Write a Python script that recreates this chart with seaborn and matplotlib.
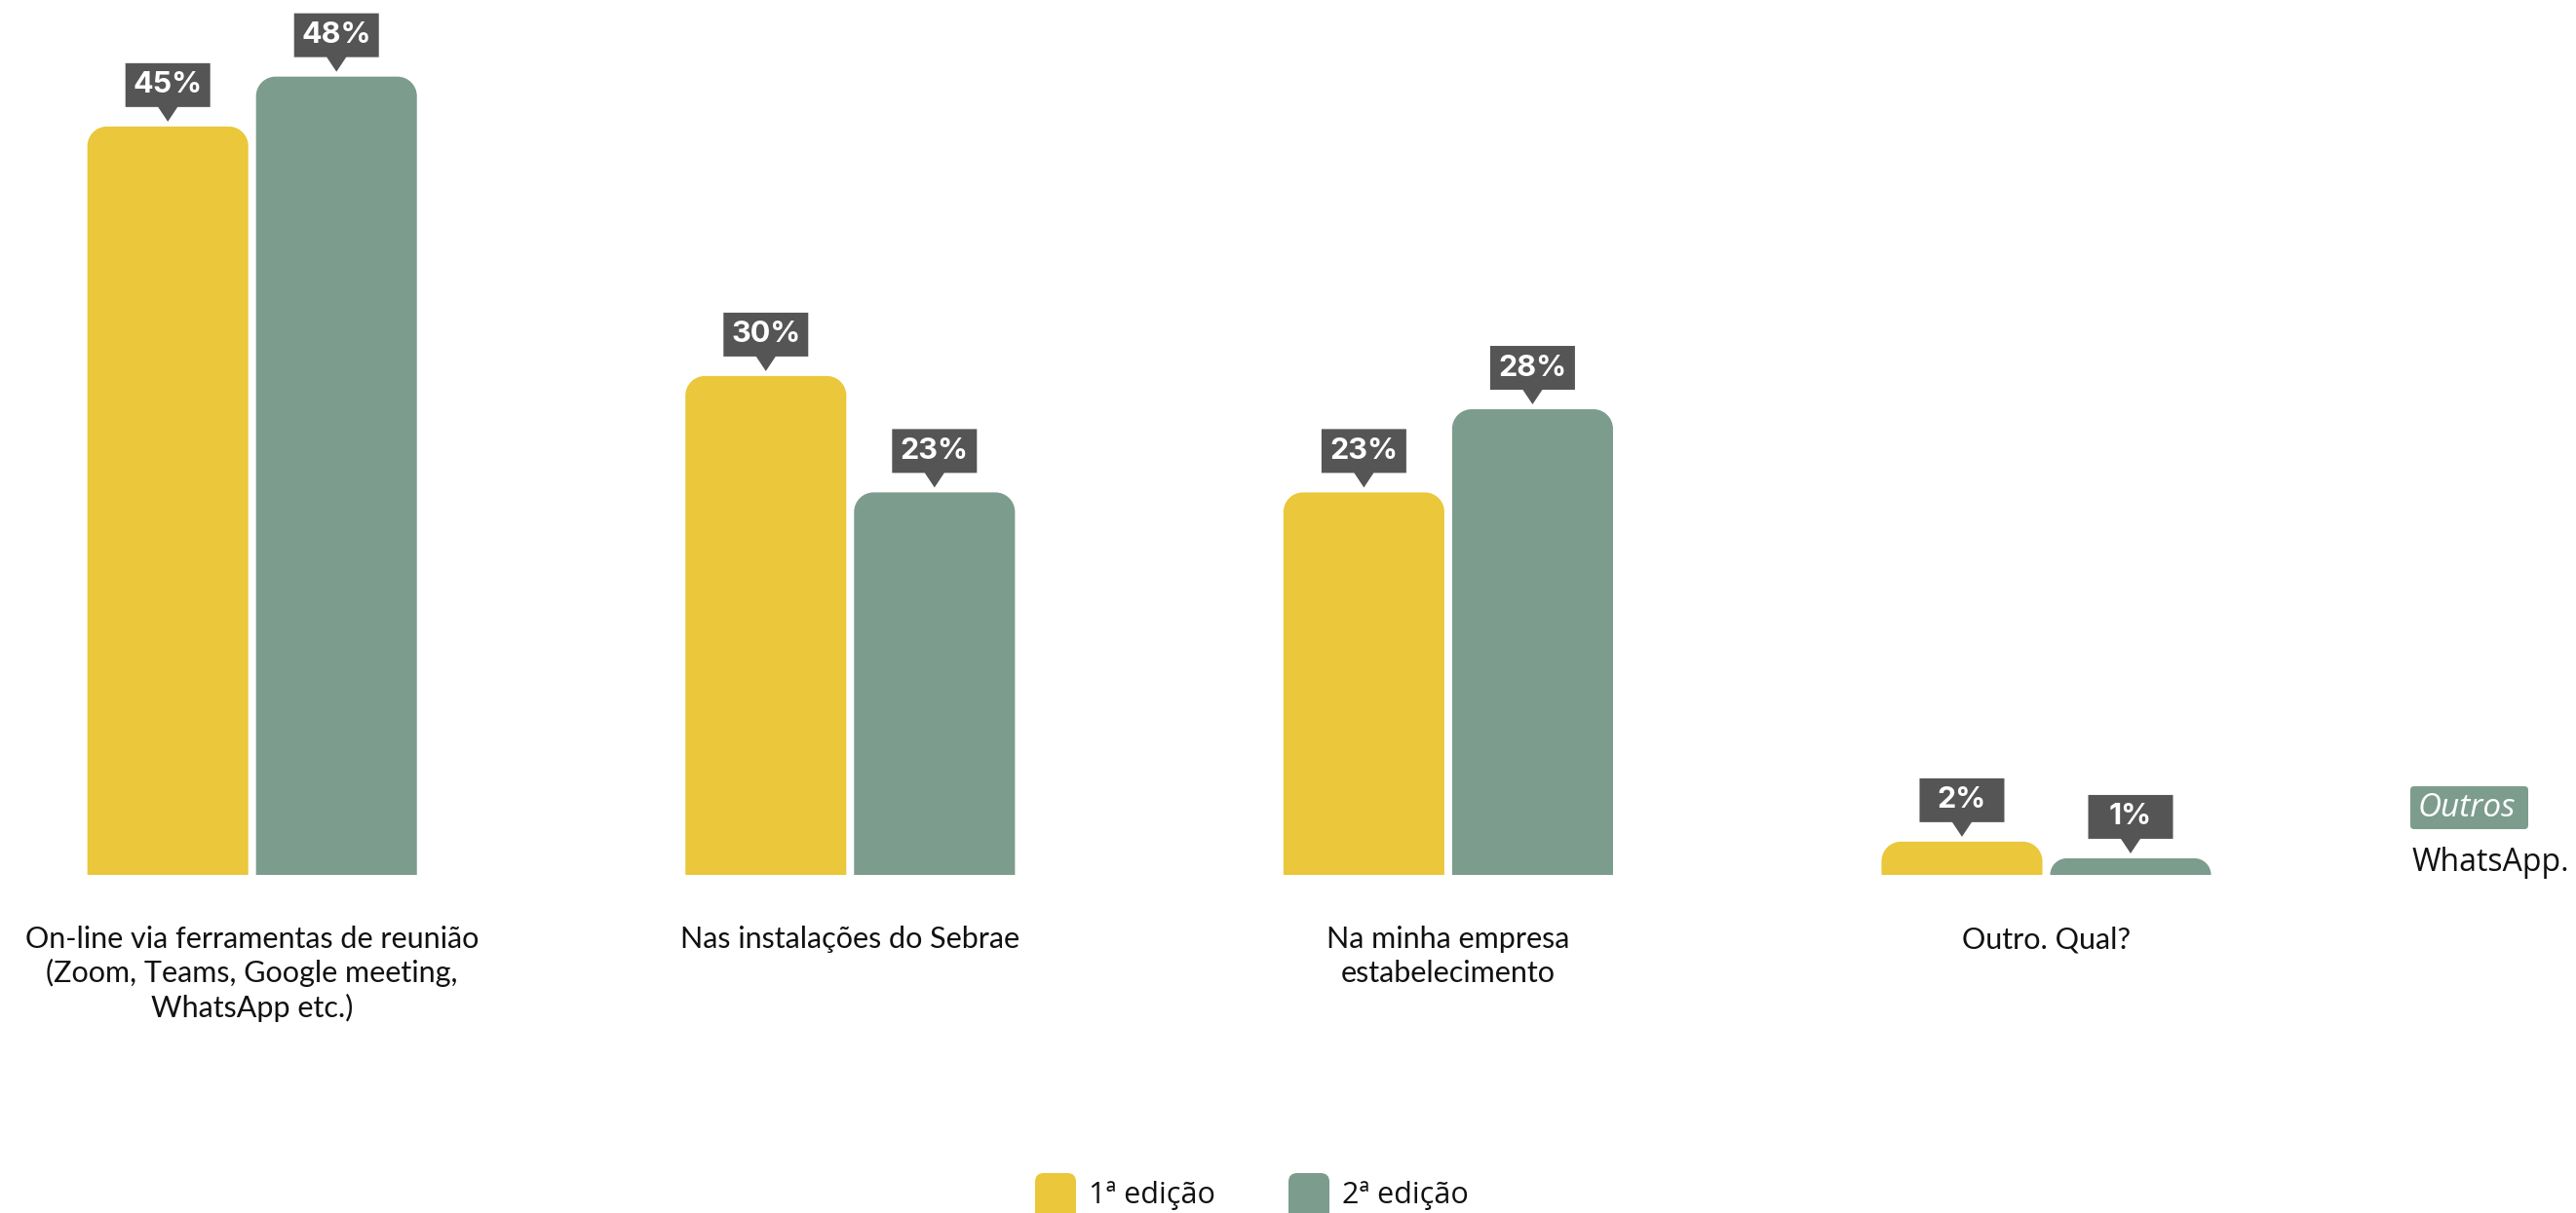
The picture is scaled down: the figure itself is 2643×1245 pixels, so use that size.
import numpy as np
import pandas as pd
import matplotlib
matplotlib.use("Agg")
import matplotlib.pyplot as plt
import matplotlib.transforms as mtransforms
from matplotlib.patches import PathPatch, Polygon, FancyBboxPatch, Rectangle
from matplotlib.path import Path
import seaborn as sns

# ---- data -----------------------------------------------------------------
categorias = [
    "On-line via ferramentas de reunião\n(Zoom, Teams, Google meeting,\nWhatsApp etc.)",
    "Nas instalações do Sebrae",
    "Na minha empresa\nestabelecimento",
    "Outro. Qual?",
]
edicao_1 = [45, 30, 23, 2]
edicao_2 = [48, 23, 28, 1]
edicoes = ["1ª edição", "2ª edição"]
cores = ["#EAC73B", "#7C9C8E"]
outros_titulo = "Outros"
outros_texto = "WhatsApp."

# ---- layout constants (pixels) ---------------------------------------------
W, H, DPI = 2643, 1245, 100
GROUP_PX = 613.6      # distance between category centres
X0_PX = 258.7         # centre of the first category
BASE_PX = 898         # baseline of the bars, from the top
PX_PER_PCT = 17.07    # vertical pixels per percentage point
YMAX = 52
RADIUS_PX = 20
LINE_PX = 35.4        # line pitch of the category labels

sns.set_theme(style="white")
plt.rcParams["font.family"] = ["Lato", "DejaVu Sans"]
LABEL_FONT = ["Inter", "DejaVu Sans"]
SANS_FONT = ["Open Sans", "DejaVu Sans"]

df = pd.DataFrame({
    "categoria": categorias * 2,
    "valor": edicao_1 + edicao_2,
    "edicao": [edicoes[0]] * len(categorias) + [edicoes[1]] * len(categorias),
})

fig = plt.figure(figsize=(W / DPI, H / DPI), dpi=DPI)
fig.patch.set_facecolor("white")
ax = fig.add_axes([0, (H - BASE_PX) / H, 1, YMAX * PX_PER_PCT / H])

sns.barplot(data=df, x="categoria", y="valor", hue="edicao", hue_order=edicoes,
            palette=cores, width=0.564, gap=0.046, saturation=1,
            legend=False, ax=ax)
ax.set_xlim(-X0_PX / GROUP_PX, (W - X0_PX) / GROUP_PX)
ax.set_ylim(0, YMAX)
ax.axis("off")

# ---- replace plain bars with bars that have rounded top corners -----------
MOVETO, LINETO, CURVE4, CLOSE = Path.MOVETO, Path.LINETO, Path.CURVE4, Path.CLOSEPOLY
K = 0.5523


def rounded_top(x, w, h, rx, ry):
    verts = [(x, 0), (x, h - ry),
             (x, h - ry + K * ry), (x + rx - K * rx, h), (x + rx, h),
             (x + w - rx, h),
             (x + w - rx + K * rx, h), (x + w, h - ry + K * ry), (x + w, h - ry),
             (x + w, 0), (x, 0)]
    codes = [MOVETO, LINETO, CURVE4, CURVE4, CURVE4, LINETO,
             CURVE4, CURVE4, CURVE4, LINETO, CLOSE]
    return Path(verts, codes)


bars = [p for p in ax.patches if isinstance(p, Rectangle) and p.get_height() > 0]
tops = []
for bar in bars:
    x, w, h = bar.get_x(), bar.get_width(), bar.get_height()
    color = bar.get_facecolor()
    bar.remove()
    r_px = min(RADIUS_PX, h * PX_PER_PCT)
    rx, ry = r_px / GROUP_PX, r_px / PX_PER_PCT
    ax.add_patch(PathPatch(rounded_top(x, w, h, rx, ry), facecolor=color,
                           edgecolor="none"))
    tops.append((x + w / 2, h))

# ---- value callouts ---------------------------------------------------------
callout = np.array([(0, 5), (-10, 20), (-43.5, 20), (-43.5, 65),
                    (43.5, 65), (43.5, 20), (10, 20)]) / DPI
for xc, h in tops:
    tr = fig.dpi_scale_trans + mtransforms.ScaledTranslation(xc, h, ax.transData)
    ax.add_patch(Polygon(callout, closed=True, facecolor="#555555",
                         edgecolor="none", transform=tr, clip_on=False))
    ax.text(0, 42.5 / DPI, f"{h:.0f}%", transform=tr, ha="center", va="center",
            color="white", fontsize=22, fontweight="bold", family=LABEL_FONT)

# ---- category labels (one text per line, first baseline 75 px below bars) ----
xt = ax.get_xaxis_transform()
axes_h_px = YMAX * PX_PER_PCT
for i, cat in enumerate(categorias):
    for j, line in enumerate(cat.split("\n")):
        ax.text(i, -(75 + j * LINE_PX) / axes_h_px, line, transform=xt,
                ha="center", va="baseline", fontsize=22, color="#111111",
                clip_on=False)

# ---- pixel transform for free annotations (origin top-left) -----------------
px = mtransforms.Affine2D().scale(1 / DPI, -1 / DPI).translate(0, H / DPI) + fig.dpi_scale_trans

# "Outros" note
fig.patches.append(FancyBboxPatch((2476, 810), 115, 38,
                                  boxstyle="round,pad=3,rounding_size=4",
                                  facecolor=cores[1], edgecolor="none",
                                  transform=px))
fig.text(2481, 829, outros_titulo, transform=px, ha="left", va="center",
         fontsize=24, style="italic", color="white", family=SANS_FONT)
fig.text(2475, 894, outros_texto, transform=px, ha="left", va="baseline",
         fontsize=23, color="#111111", family=SANS_FONT)

# ---- legend -----------------------------------------------------------------
for (sq_x, tx_x), label, color in zip([(1062, 1117), (1322, 1377)], edicoes, cores):
    fig.patches.append(FancyBboxPatch((sq_x + 8, 1212), 26, 34,
                                      boxstyle="round,pad=8,rounding_size=9",
                                      facecolor=color, edgecolor="none",
                                      transform=px))
    fig.text(tx_x, 1235, label, transform=px, ha="left", va="baseline",
             fontsize=22, color="#111111", family=SANS_FONT)

fig.savefig("out.png", dpi=DPI, facecolor="white")
